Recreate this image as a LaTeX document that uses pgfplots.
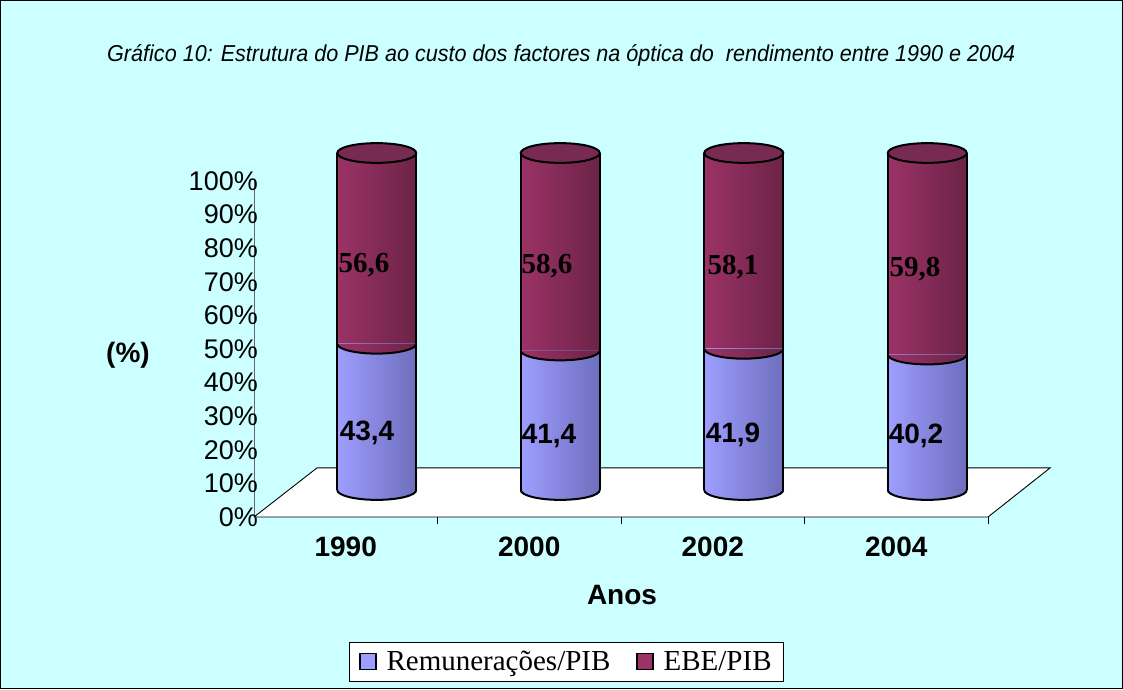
\documentclass[border=0pt]{standalone}
\usepackage{fontspec}
\setmainfont{Liberation Sans}
\newfontfamily\timesf{Liberation Serif}
\usepackage{graphicx}
\usepackage{pgfplots}
\pgfplotsset{compat=1.18}

\definecolor{bgc}{HTML}{CCFFFF}
\definecolor{blueL}{HTML}{9E9EFF}
\definecolor{blueR}{HTML}{6E6EBE}
\definecolor{marL}{HTML}{9B3366}
\definecolor{marR}{HTML}{6C2347}
\definecolor{topc}{HTML}{772A52}

\pgfdeclarehorizontalshading{blueshade}{100bp}{color(0bp)=(blueL); color(25bp)=(blueL); color(75bp)=(blueR); color(100bp)=(blueR)}
\pgfdeclarehorizontalshading{marshade}{100bp}{color(0bp)=(marL); color(25bp)=(marL); color(75bp)=(marR); color(100bp)=(marR)}

\pgfdeclareplotmark{halfblue}{%
  \pgfpathmoveto{\pgfqpoint{-\pgfplotmarksize}{0pt}}%
  \pgfpatharc{180}{360}{\pgfplotmarksize and 0.25\pgfplotmarksize}%
  \pgfpathclose
  \pgfshadepath{blueshade}{0}%
  \pgfusepath{discard}%
  \pgfpathmoveto{\pgfqpoint{-\pgfplotmarksize}{0pt}}%
  \pgfpatharc{180}{360}{\pgfplotmarksize and 0.25\pgfplotmarksize}%
  \pgfusepathqstroke
}
\pgfdeclareplotmark{halfmar}{%
  \pgfpathmoveto{\pgfqpoint{-\pgfplotmarksize}{0pt}}%
  \pgfpatharc{180}{360}{\pgfplotmarksize and 0.25\pgfplotmarksize}%
  \pgfpathclose
  \pgfshadepath{marshade}{0}%
  \pgfusepath{discard}%
  \pgfpathmoveto{\pgfqpoint{-\pgfplotmarksize}{0pt}}%
  \pgfpatharc{180}{360}{\pgfplotmarksize and 0.25\pgfplotmarksize}%
  \pgfusepathqstroke
}
\pgfdeclareplotmark{fullell}{%
  \pgfpathellipse{\pgfpointorigin}{\pgfqpoint{\pgfplotmarksize}{0pt}}{\pgfqpoint{0pt}{0.25\pgfplotmarksize}}%
  \pgfusepathqfillstroke
}

\pgfplotsset{
  barax/.style={
    at={(285pt,199pt)}, anchor=south west, scale only axis,
    width=734pt, height=337pt,
    xmin=0, xmax=4, ymin=0, ymax=100, hide axis, clip=false,
  },
  rem/.style={draw=none, left color=blueL, right color=blueR},
  ebe/.style={draw=none, left color=marL, right color=marR},
}
% one stacked axis per year, so that each bar gets its own shading
\newcommand\yearbars[3]{%
  \begin{axis}[barax, ybar stacked, bar width=79pt]
  \addplot[rem] coordinates {(#1,#2)};
  \addplot[ebe] coordinates {(#1,#3)};
  \end{axis}}

\newsavebox\titlebox

\begin{document}
\begin{tikzpicture}[x=1pt,y=1pt]
\fill[bgc] (0,0) rectangle (1123,689);
\draw[black, line width=1pt] (0.5,0.5) rectangle (1122.5,688.5);
\path[use as bounding box] (0,0) rectangle (1123,689);

% Axis A: floor, y axis, tick labels, legend
\begin{axis}[
  at={(254pt,172pt)}, anchor=south west, scale only axis,
  width=734pt, height=336pt,
  xmin=0, xmax=4, ymin=0, ymax=100, clip=false,
  axis lines*=left,
  x axis line style={draw=none},
  y axis line style={draw=gray!80!black, line width=1pt},
  xtick={0.5,1.5,2.5,3.5},
  xticklabels={1990,2000,2002,2004},
  minor xtick={1,2,3,4},
  ytick={0,10,...,100},
  yticklabels={0\%,10\%,20\%,30\%,40\%,50\%,60\%,70\%,80\%,90\%,100\%},
  major tick length=0pt, minor tick length=7pt, tick align=outside,
  minor tick style={black, line width=0.8pt},
  xticklabel style={font=\fontsize{28}{34}\selectfont\bfseries, anchor=north, inner sep=0pt},
  xticklabel shift=20pt,
  yticklabel style={font=\fontsize{27}{32}\selectfont, anchor=east, inner sep=0pt},
  yticklabel shift=-4pt,
  legend columns=2,
  legend style={at={(0.4257,-0.430)}, anchor=center, draw=black, line width=0.8pt, fill=white,
    font=\timesf\fontsize{29}{33}\selectfont, inner xsep=10pt, inner ysep=7pt,
    /tikz/every odd column/.append style={column sep=8pt},
    /tikz/every even column/.append style={column sep=24pt}},
  legend image code/.code={\draw[#1, line width=1.2pt] (0pt,-8pt) rectangle (16pt,8pt);},
]
\addplot[forget plot, fill=white, draw=black, line width=0.9pt] coordinates {(0,0) (4,0) (4.338,14.6) (0.343,14.6) (0,0)};
\addlegendimage{fill=blueL, draw=black}
\addlegendentry{Remunerações/PIB}
\addlegendimage{fill=marL, draw=black}
\addlegendentry{EBE/PIB}
\end{axis}

% Bars: Remunerações/PIB and EBE/PIB
\yearbars{0.5}{43.4}{56.6}
\yearbars{1.5}{41.4}{58.6}
\yearbars{2.5}{41.9}{58.1}
\yearbars{3.5}{40.2}{59.8}

% Cylinder outlines
\begin{axis}[barax]
\addplot[only marks, mark=halfblue, mark size=39.5pt, mark options={draw=black, line width=2pt}] coordinates {(0.5,0) (1.5,0) (2.5,0) (3.5,0)};
\addplot[only marks, mark=halfmar, mark size=39.5pt, mark options={draw=black, line width=2pt}] coordinates {(0.5,43.4) (1.5,41.4) (2.5,41.9) (3.5,40.2)};
\addplot[ycomb, draw=black, line width=2pt, xshift=-39.5pt, mark=none] coordinates {(0.5,100) (1.5,100) (2.5,100) (3.5,100)};
\addplot[ycomb, draw=black, line width=2pt, xshift=39.5pt, mark=none] coordinates {(0.5,100) (1.5,100) (2.5,100) (3.5,100)};
\addplot[only marks, mark=fullell, mark size=39.5pt, mark options={fill=topc, draw=black, line width=2pt}] coordinates {(0.5,100) (1.5,100) (2.5,100) (3.5,100)};
\end{axis}

% Texts
\node[anchor=base west, inner sep=0pt] at (107,627) {\sbox\titlebox{\fontsize{23}{27}\selectfont\itshape Gráfico 10: Estrutura do PIB ao custo dos factores na óptica do \ rendimento entre 1990 e 2004}\pgfmathsetmacro\tsc{908/\the\wd\titlebox}\scalebox{\tsc}[1]{\usebox\titlebox}};
\node[anchor=base, inner sep=0pt, font=\fontsize{28}{34}\selectfont\bfseries] at (128,327) {(\%)};
\node[anchor=base, inner sep=0pt, font=\fontsize{28}{34}\selectfont\bfseries] at (622,85) {Anos};

\begin{scope}[every node/.style={anchor=base, inner sep=0pt, font=\fontsize{28}{34}\selectfont\bfseries}]
\node at (367,249) {43,4};
\node at (549,246) {41,4};
\node at (733,247) {41,9};
\node at (916,246) {40,2};
\end{scope}
\begin{scope}[every node/.style={anchor=base, inner sep=0pt, font=\timesf\fontsize{29}{34}\selectfont\bfseries}]
\node at (364,417) {56,6};
\node at (547,416) {58,6};
\node at (733,414) {58,1};
\node at (915,413) {59,8};
\end{scope}
\end{tikzpicture}
\end{document}
